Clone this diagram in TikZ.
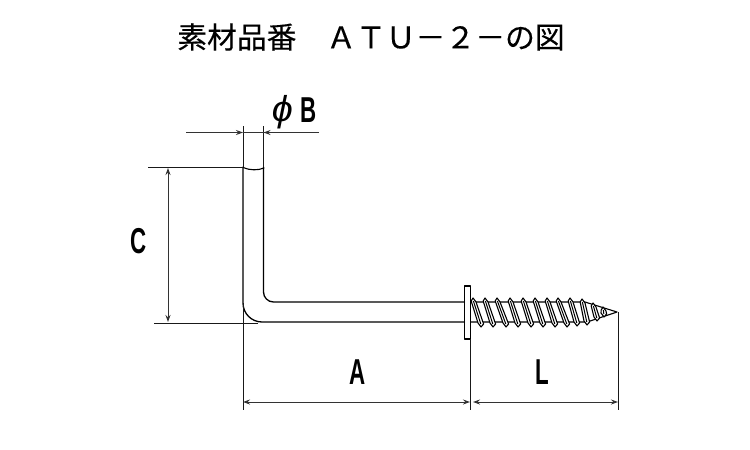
\documentclass[tikz,border=0pt]{standalone}
\usepackage{fontspec}
\setmainfont{Liberation Sans}
\newfontfamily\cjk[FakeBold=0.25]{Noto Sans CJK JP}
\usetikzlibrary{arrows.meta}
\tikzset{
  part/.style={line width=1.3pt,black,line cap=round,line join=round},
  thin part/.style={line width=1.1pt,black,line join=round},
  dimline/.style={line width=1pt,black!80},
  extline/.style={line width=1pt,black!90},
  dimarrow/.style={-{Stealth[length=7pt,width=5pt]}},
  dimboth/.style={{Stealth[length=7pt,width=5pt]}-{Stealth[length=7pt,width=5pt]}},
  dimlabel/.style={inner sep=0pt,font=\bfseries\fontsize{36}{36}\selectfont,xscale=0.62},
}
\begin{document}
\begin{tikzpicture}[x=1pt,y=-1pt]
\useasboundingbox (0,0) rectangle (750,450);
% title
\node[inner sep=0pt,font=\cjk\fontsize{29.8}{30}\selectfont] (title) at (371,37) {素材品番　ＡＴＵ－２－の図};
% hook
\draw[part] (243,167) -- (243,303) arc[start angle=180,end angle=90,radius=19] -- (464.5,322);
\draw[part] (263.5,167) -- (263.5,292) arc[start angle=180,end angle=90,radius=10] -- (464.5,302);
\draw[part,line width=1.1pt] (243,167.5) .. controls (250,170.5) and (258,170.5) .. (264,168);
% flange
\draw[thin part] (464.5,286) rectangle (470.5,339);
% screw body
\draw[thin part] (470.5,302) -- (585,302) -- (617,312) -- (587,322) -- (470.5,322);
\foreach \xt/\xb/\yt/\yb in {473/481/298/327,485/493/298/327,497/506/298/327,510/518/298/327,523/531/298/327,535/543/298/327,547/555/298/327,558/567/298/327,570/577/298/326,582/587/299/325,593/597/303/321,603/604/307/317}{
  \draw[thin part,fill=white] (\xt,\yt) -- (\xt+3,\yt+4) -- (\xb+2.6,\yb-3) -- (\xb,\yb) -- (\xb-3,\yb-4) -- (\xt-1.8,\yt+3) -- cycle;
  \draw[line width=1pt] (\xt+0.4,\yt+3) -- (\xb-0.2,\yb-3);
}
% extension lines
\coordinate (phiL) at (243,126);
\coordinate (phiR) at (263.5,126);
\coordinate (capL) at (148,167);
\coordinate (capR) at (243,167);
\coordinate (baseL) at (154,323);
\coordinate (baseR) at (258,323);
\draw[extline] (phiL) -- (243,167);
\draw[extline] (243,303) -- (243,410);
\draw[extline] (phiR) -- (263.5,167);
\draw[extline] (capL) -- (capR);
\draw[extline] (baseL) -- (baseR);
\draw[extline] (470.5,339) -- (470.5,410);
\draw[extline] (618,312) -- (618,410);
% dimensions
\coordinate (bA) at (186,132.5);
\coordinate (bB) at (243,132.5);
\coordinate (bC) at (319,132.5);
\coordinate (bD) at (263.5,132.5);
\draw[dimline,dimarrow] (bA) -- (bB);
\draw[dimline,dimarrow] (bC) -- (bD);
\draw[dimline] (bB) -- (bD);
\coordinate (cT) at (168,168);
\coordinate (cB) at (168,322);
\draw[dimline,dimboth] (cT) -- (cB);
\coordinate (aL) at (243,402);
\coordinate (aR) at (470,402);
\coordinate (lL) at (473,402);
\coordinate (lR) at (618,402);
\draw[dimline,dimboth] (aL) -- (aR);
\draw[dimline,dimboth] (lL) -- (lR);
% labels
\node[dimlabel] (labA) at (358,372) {A};
\node[dimlabel] (labL) at (542,372) {L};
\node[dimlabel] (labC) at (139,241) {C};
\node[dimlabel] (labB) at (308.5,110) {B};
\node[inner sep=0pt,font=\fontsize{36}{36}\selectfont\itshape,xscale=1.05] (labPhi) at (282.5,112) {ϕ};
\end{tikzpicture}
\end{document}
